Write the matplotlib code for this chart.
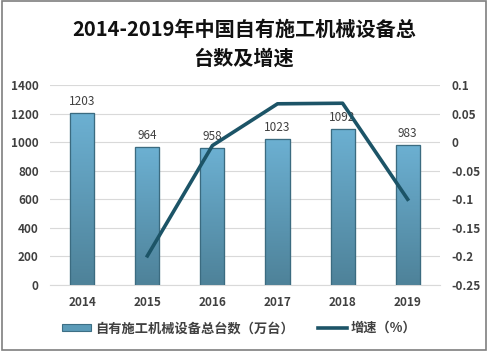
import matplotlib
matplotlib.use("Agg")
import matplotlib.pyplot as plt
import numpy as np
from matplotlib.patches import Rectangle
from matplotlib.colors import LinearSegmentedColormap

plt.rcParams['font.family'] = ['Noto Sans CJK SC', 'DejaVu Sans']

years = ['2014', '2015', '2016', '2017', '2018', '2019']
totals = [1203, 964, 958, 1023, 1092, 983]
growth_years = ['2015', '2016', '2017', '2018', '2019']
growth = [-0.199, -0.006, 0.067, 0.068, -0.100]

fig = plt.figure(figsize=(4.88, 3.51), dpi=100)
fig.patches.append(Rectangle((0.004, 0.004), 0.992, 0.992, transform=fig.transFigure,
                             fill=False, edgecolor='#7f7f7f', linewidth=1.2))

ax = fig.add_axes([0.102, 0.188, 0.80, 0.57])
x = np.arange(len(years))
bars = ax.bar(x, totals, width=0.37, color='#5b9bb8', edgecolor='#3d6f85', linewidth=0.8, zorder=2)

# gradient fill on each bar, then outline on top
grad = np.linspace(0, 1, 100).reshape(-1, 1)
cmap = LinearSegmentedColormap.from_list('b', ['#4e8299', '#6cb0d2'])
for b in bars:
    bx, by = b.get_x(), b.get_y()
    w, h = b.get_width(), b.get_height()
    im = ax.imshow(grad, extent=[bx, bx + w, by, by + h], origin='lower',
                   cmap=cmap, aspect='auto', zorder=2.5)
    im.set_clip_path(b)
ax.bar(x, totals, width=0.37, fill=False, edgecolor='#3b6b80', linewidth=0.9, zorder=2.8)

for xi, v in zip(x, totals):
    ax.text(xi, v + 35, str(v), ha='center', va='bottom', fontsize=8.5, color='#404040')

ax.set_xlim(-0.5, 5.5)
ax.set_ylim(0, 1400)
ax.set_yticks(range(0, 1401, 200))
ax.set_xticks(x)
ax.set_xticklabels(years)
ax.grid(axis='y', color='#d9d9d9', linewidth=0.8, zorder=0)
for s in ['top', 'left', 'right']:
    ax.spines[s].set_visible(False)
ax.spines['bottom'].set_color('#d9d9d9')
ax.tick_params(length=0, labelsize=8.5, labelcolor='#404040', pad=8)
for lab in ax.get_xticklabels() + ax.get_yticklabels():
    lab.set_fontweight('bold')

ax2 = ax.twinx()
gx = [years.index(y) for y in growth_years]
line, = ax2.plot(gx, growth, color='#1c5467', linewidth=2.6, zorder=3)
ax2.set_ylim(-0.25, 0.1)
ax2.set_yticks([-0.25, -0.2, -0.15, -0.1, -0.05, 0, 0.05, 0.1])
ax2.set_yticklabels(['-0.25', '-0.2', '-0.15', '-0.1', '-0.05', '0', '0.05', '0.1'])
for s in ['top', 'left', 'right', 'bottom']:
    ax2.spines[s].set_visible(False)
ax2.tick_params(length=0, labelsize=8.5, labelcolor='#404040', pad=8)
for lab in ax2.get_yticklabels():
    lab.set_fontweight('bold')

fig.text(0.5, 0.915, '2014-2019年中国自有施工机械设备总', ha='center', va='center',
         fontsize=14.5, fontweight='bold', color='#111111')
fig.text(0.5, 0.835, '台数及增速', ha='center', va='center',
         fontsize=14.5, fontweight='bold', color='#111111')

leg = fig.legend([bars, line], ['自有施工机械设备总台数（万台）', '增速（%）'],
                 loc='center', bbox_to_anchor=(0.49, 0.065), ncol=2, frameon=False,
                 fontsize=9.5, handlelength=2.2, handleheight=0.45, handletextpad=0.3,
                 columnspacing=1.8, labelcolor='#404040')
for t in leg.get_texts():
    t.set_fontweight('bold')

fig.savefig('out.png', dpi=100)
